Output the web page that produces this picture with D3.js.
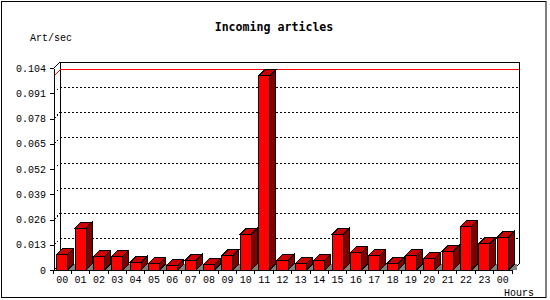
<!DOCTYPE html>
<html>
<head>
<meta charset="utf-8">
<script src="https://cdn.jsdelivr.net/npm/d3@7"></script>
<style>
  body { margin: 0; background: #fff; }
  text { font-family: "Liberation Mono", monospace; fill: #000; }
</style>
</head>
<body>
<svg width="550" height="300"></svg>
<script>
const hours = ["00","01","02","03","04","05","06","07","08","09","10","11",
  "12","13","14","15","16","17","18","19","20","21","22","23","00"];
const rates = [0.0081, 0.0215, 0.0070, 0.0070, 0.0040, 0.0034, 0.0024, 0.0050, 0.0029, 0.0074, 0.0184, 0.1000,
  0.0050, 0.0034, 0.0050, 0.0184, 0.0091, 0.0076, 0.0034, 0.0076, 0.0060, 0.0096, 0.0225, 0.0137, 0.0168];
const yTicks = [0, 0.013, 0.026, 0.039, 0.052, 0.065, 0.078, 0.091, 0.104];

const svg = d3.select("svg");
const dx = 6, dy = 6;          // 3d depth
const x0 = 54, x1 = 513, yBase = 270;

// outer frame
svg.append("rect")
  .attr("x", 1.5).attr("y", 1.5).attr("width", 544.5).attr("height", 296)
  .attr("fill", "none").attr("stroke", "#000").attr("stroke-width", 1);

svg.append("text").attr("x", 274).attr("y", 31)
  .attr("text-anchor", "middle").style("font-size", "11.6px").style("font-weight", "bold")
  .style("font-family", "DejaVu Sans Mono")
  .text("Incoming articles");
svg.append("text").attr("x", 30).attr("y", 41).style("font-size", "10px").text("Art/sec");
svg.append("text").attr("x", 534).attr("y", 296).attr("text-anchor", "end")
  .style("font-size", "10px").text("Hours");

const x = d3.scaleBand().domain(d3.range(hours.length)).range([x0 - 1, x1 - 1])
  .paddingInner(0.4).paddingOuter(0.2);
const y = d3.scaleLinear().domain([0, 0.104]).range([yBase, 68]);
const yTop = y(0.104);

const g = svg.append("g").attr("shape-rendering", "crispEdges");

// dotted grid on back wall + stub from front axis
yTicks.slice(1, -1).forEach(v => {
  g.append("path")
    .attr("d", `M${x0},${y(v)}L${x0 + dx},${y(v) - dy}H${x1 + dx}`)
    .attr("fill", "none").attr("stroke", "#000").attr("stroke-dasharray", "2,2");
});

// back wall
g.append("path")
  .attr("d", `M${x0 + dx},${yBase - dy}V${yTop - dy}H${x1 + dx}V${yBase - dy}L${x1},${yBase}`)
  .attr("fill", "none").attr("stroke", "#000");
g.append("path")
  .attr("d", `M${x0},${yTop}L${x0 + dx},${yTop - dy}M${x0},${yBase}L${x0 + dx},${yBase - dy}`)
  .attr("fill", "none").attr("stroke", "#000").attr("shape-rendering", "auto");

// max line
const vmax = d3.max(rates);
g.append("path")
  .attr("d", `M${x0},${y(vmax)}L${x0 + dx},${y(vmax) - dy}H${x1 + dx}`)
  .attr("fill", "none").attr("stroke", "#f00");

// bars
const bw = x.bandwidth();
const bars = g.selectAll(".bar").data(rates).enter().append("g").attr("class", "bar");
bars.append("path")
  .attr("d", (d, i) => {
    const r = x(i) + bw;
    return `M${r},${yBase}L${r + dx},${yBase - dy}H${r + dx + 3}V${yBase}Z`;
  })
  .attr("fill", "#808080").attr("stroke", "none");
bars.append("path")
  .attr("d", (d, i) => {
    const l = x(i), r = l + bw, t = y(d);
    return `M${l},${t}L${l + dx},${t - dy}H${r + dx}L${r},${t}Z`;
  })
  .attr("fill", "#cc0000").attr("stroke", "#000");
bars.append("path")
  .attr("d", (d, i) => {
    const r = x(i) + bw, t = y(d);
    return `M${r},${t}L${r + dx},${t - dy}V${yBase - dy}L${r},${yBase}Z`;
  })
  .attr("fill", "#800000").attr("stroke", "#000");
bars.append("rect")
  .attr("x", (d, i) => x(i)).attr("y", d => y(d))
  .attr("width", bw).attr("height", d => yBase - y(d))
  .attr("fill", "#ff0000").attr("stroke", "#000");

// y axis
const yAxis = d3.axisLeft(y).tickValues(yTicks).tickSize(4).tickSizeOuter(0).tickPadding(4)
  .tickFormat(v => v === 0 ? "0" : v.toFixed(3));
svg.append("g").attr("transform", `translate(${x0},0)`).call(yAxis)
  .call(a => a.selectAll("path, line").attr("stroke", "#000").attr("shape-rendering", "crispEdges"))
  .call(a => a.selectAll("text").style("font-size", "10px").style("font-family", "Liberation Mono"));

// x axis
const step = x.step();
const bounds = d3.range(hours.length + 1).map(i => x0 - 1 + i * step);
const xg = svg.append("g").attr("shape-rendering", "crispEdges");
xg.append("line").attr("x1", x0).attr("x2", x1).attr("y1", yBase).attr("y2", yBase).attr("stroke", "#000");
xg.selectAll(".tk").data(bounds).enter().append("line")
  .attr("x1", d => d).attr("x2", d => d).attr("y1", yBase).attr("y2", yBase + 4).attr("stroke", "#000");
xg.selectAll(".lbl").data(hours).enter().append("text")
  .attr("x", (d, i) => x(i) + bw / 2).attr("y", 283)
  .attr("text-anchor", "middle").style("font-size", "10px").text(d => d);
</script>
</body>
</html>
